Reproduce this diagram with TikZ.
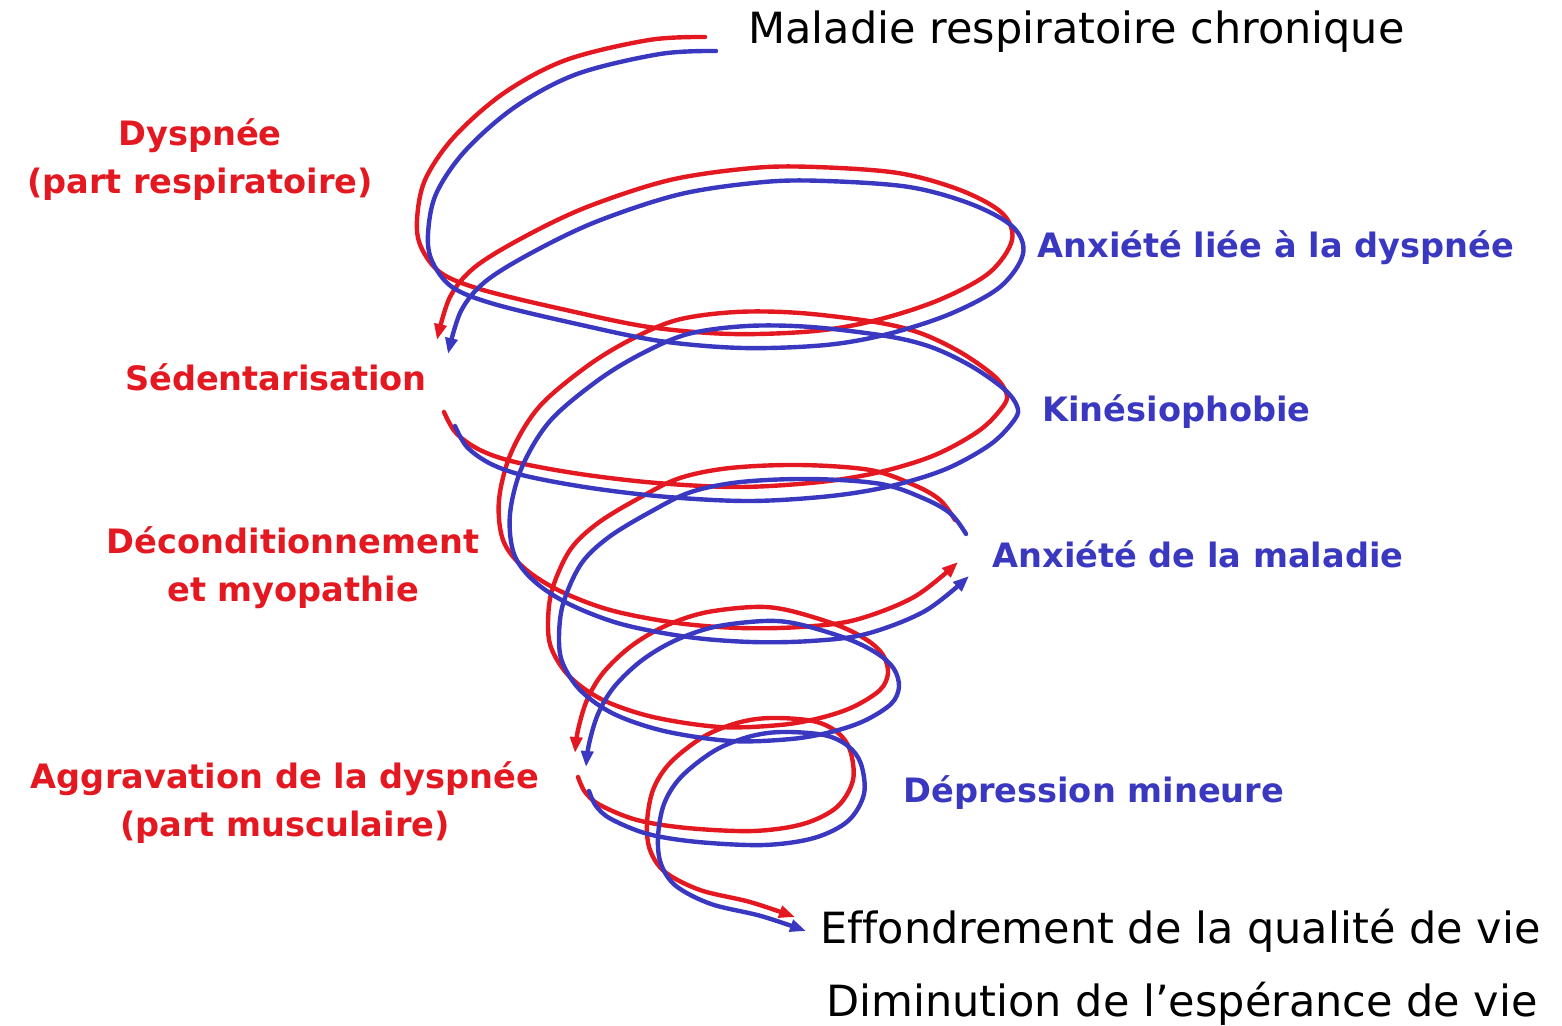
\documentclass[tikz,border=0pt]{standalone}
\usepackage{fontspec}
\setmainfont[Ligatures=NoCommon]{DejaVu Sans}
\usetikzlibrary{arrows.meta}

\definecolor{spired}{RGB}{228,24,32}
\definecolor{spiblue}{RGB}{58,56,192}

\begin{document}
\begin{tikzpicture}[x=0.5pt, y=-0.5pt,
    redlab/.style={text=spired, font=\bfseries\fontsize{16.8}{24}\selectfont, align=center, inner sep=0pt},
    bluelab/.style={text=spiblue, font=\bfseries\fontsize{16.8}{24}\selectfont, anchor=base west, inner sep=0pt},
    blacklab/.style={text=black, font=\fontsize{21.5}{26}\selectfont, anchor=base west, inner sep=0pt},
    turn/.style={line width=2.2pt, line cap=round, line join=round, -{Triangle[length=8pt,width=6pt]}}]

    \useasboundingbox (0,0) rectangle (1562,1026);

    % The spiral: red line, the blue one runs beside it
    \foreach \col/\dx/\dy in {spired/0/0, spiblue/11/14}
        {
            \begin{scope}[shift={(\dx,\dy)}]
                % first turn, down to the sedentarisation
                \draw[turn, \col] plot[smooth, tension=0.55] coordinates {(705,37) (649,40) (566,60) (504,93) (454,137) (425,180) (417,220) (421,247) (441,273) (483,290) (566,310) (649,327) (732,334) (815,331) (877,320) (939,300) (989,273) (1012,240) (1002,213) (960,190) (898,173) (815,167) (753,168) (670,180) (587,207) (524,237) (475,267) (450,297) (437,340)};
                % second turn, up to the anxiety of the disease
                \draw[turn, \col] plot[smooth, tension=0.55] coordinates {(444,412) (456,433) (480,450) (515,462) (580,474) (657,483) (740,487) (820,482) (880,472) (935,455) (980,430) (1004,405) (1006,392) (993,375) (960,352) (920,333) (875,322) (800,313) (736,312) (677,320) (630,340) (586,367) (539,407) (511,453) (499,500) (503,540) (523,567) (558,590) (610,610) (677,623) (740,628) (800,627) (855,620) (914,597) (958,562)};
                % third turn, down to the aggravation
                \draw[turn, \col] plot[smooth, tension=0.55] coordinates {(955,520) (940,500) (914,485) (870,470) (800,465) (730,468) (680,478) (641,497) (598,523) (570,550) (552,590) (548,625) (552,650) (570,677) (603,700) (653,717) (720,727) (780,725) (820,718) (853,707) (880,690) (888,673) (883,655) (867,640) (837,625) (787,610) (753,607) (703,613) (663,627) (630,647) (603,673) (587,700) (578,730) (575,753)};
                % last turn, out to the quality of life
                \draw[turn, \col] plot[smooth, tension=0.55] coordinates {(578,777) (585,792) (600,805) (637,820) (687,828) (753,831) (803,824) (837,807) (853,780) (850,750) (837,732) (813,721) (770,718) (737,723) (703,737) (670,763) (653,790) (647,823) (650,850) (665,872) (700,890) (750,902) (795,917)};
            \end{scope}
        }

    % Labels on the left (red)
    \node[redlab] (dys) at (200,160) {Dyspnée\\(part respiratoire)};
    \node[redlab, anchor=base] (sed) at (276,390) {Sédentarisation};
    \node[redlab] (dec) at (293,568) {Déconditionnement\\et myopathie};
    \node[redlab] (agg) at (285,803) {Aggravation de la dyspnée\\(part musculaire)};

    % Labels on the right (blue)
    \node[bluelab] (anx) at (1037,258) {Anxiété liée à la dyspnée};
    \node[bluelab] (kin) at (1042,422) {Kinésiophobie};
    \node[bluelab] (anm) at (992,567) {Anxiété de la maladie};
    \node[bluelab] (dep) at (903,802) {Dépression mineure};

    % Start and end
    \node[blacklab] (mal) at (748,44) {Maladie respiratoire chronique};
    \node[blacklab] (eff) at (820,943) {Effondrement de la qualité de vie};
    \node[blacklab] (dim) at (826,1016) {Diminution de l’espérance de vie};

\end{tikzpicture}
\end{document}
